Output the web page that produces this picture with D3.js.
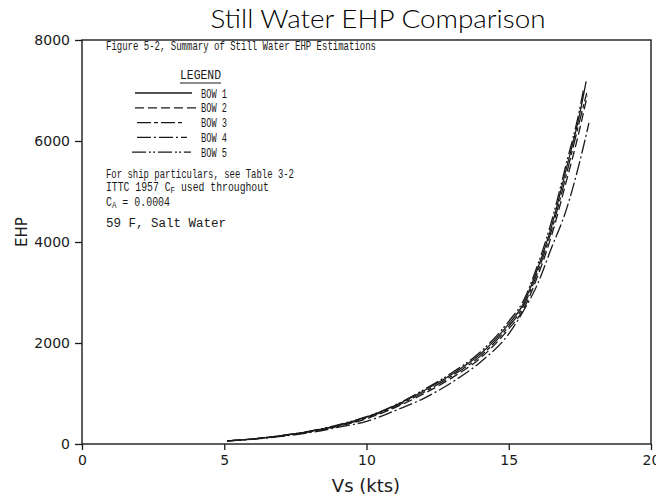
<!DOCTYPE html>
<html><head><meta charset="utf-8">
<script src="https://cdn.jsdelivr.net/npm/d3@7"></script>
<style>body{margin:0;background:#fff}svg{display:block}</style>
</head><body>
<svg id="c" width="656" height="497"></svg>
<script>
// ---- data ----
const xTicks = [0, 5, 10, 15, 20];
const yTicks = [0, 2000, 4000, 6000, 8000];
const seriesNames = ["BOW 1", "BOW 2", "BOW 3", "BOW 4", "BOW 5"];
const speeds = [5.1, 6, 7, 8, 9, 10, 11, 12, 13, 14, 15, 15.5, 16, 16.5, 17, 17.5];
const bow1 = [60, 100, 165, 250, 370, 530, 760, 1050, 1380, 1780, 2380, 2760, 3450, 4300, 5400, 6550];
const bow2 = [60, 98, 158, 240, 350, 500, 720, 990, 1310, 1700, 2280, 2650, 3300, 4120, 5150, 6250];
const bow3 = [60, 100, 160, 245, 360, 515, 740, 1020, 1350, 1740, 2330, 2710, 3380, 4220, 5280, 6420];
const bow4 = [60, 95, 150, 225, 330, 450, 660, 900, 1220, 1620, 2180, 2620, 3150, 3880, 4600, 5600];
const bow5 = [60, 100, 165, 255, 380, 540, 770, 1070, 1410, 1820, 2430, 2820, 3520, 4400, 5500, 6650];
const endSpeeds = [17.72, 17.76, 17.74, 17.82, 17.62];
const endEHP = [7180, 6900, 6950, 6360, 7000];
const dashes = [null, "9,4", "14,3,4,3", "14,3,2,3", "14,3,2,2,2,3"];

// ---- chart ----
const svg = d3.select("#c");
const L = 82, R = 651, T = 40, B = 444;
const x = d3.scaleLinear().domain([0, 20]).range([L, R]);
const y = d3.scaleLinear().domain([0, 8000]).range([B, T]);
const ink = "#1a1a1a";
const sans = "'DejaVu Sans', sans-serif";
const light = "Lato, 'DejaVu Sans', sans-serif";
const mono = "'Liberation Mono', 'DejaVu Sans Mono', monospace";

// frame
svg.append("rect").attr("x", L).attr("y", T).attr("width", R - L).attr("height", B - T)
  .attr("fill", "none").attr("stroke", ink).attr("stroke-width", 1.4);

const xAxis = svg.append("g").attr("transform", `translate(0,${B})`)
  .call(d3.axisBottom(x).tickValues(xTicks).tickFormat(d3.format("d")).tickSize(6).tickPadding(5));
const yAxis = svg.append("g").attr("transform", `translate(${L},0)`)
  .call(d3.axisLeft(y).tickValues(yTicks).tickFormat(d3.format("d")).tickSize(7).tickPadding(5));
[xAxis, yAxis].forEach(g => {
  g.select(".domain").remove();
  g.selectAll("line").attr("stroke", ink).attr("stroke-width", 1.3);
  g.selectAll("text").attr("fill", ink).style("font-family", sans).style("font-size", "14px");
});

// title & axis labels
svg.append("text").attr("x", 378).attr("y", 28).attr("text-anchor", "middle")
  .style("font-family", light).style("font-weight", 300).style("font-size", "26px").attr("fill", "#000")
  .attr("textLength", 335).attr("lengthAdjust", "spacingAndGlyphs")
  .text("Still Water EHP Comparison");
svg.append("text").attr("x", 366).attr("y", 492).attr("text-anchor", "middle")
  .style("font-family", sans).style("font-size", "18px").attr("fill", ink)
  .text("Vs (kts)");
svg.append("text").attr("transform", "translate(27,232) rotate(-90)").attr("text-anchor", "middle")
  .style("font-family", sans).style("font-size", "15px").attr("fill", ink)
  .text("EHP");

// curves
const all = [bow1, bow2, bow3, bow4, bow5];
const line = d3.line().x(d => x(d[0])).y(d => y(d[1])).curve(d3.curveMonotoneX);
all.forEach((vals, i) => {
  const pts = speeds.map((s, j) => [s, vals[j]]);
  pts.push([endSpeeds[i], endEHP[i]]);
  svg.append("path").attr("d", line(pts)).attr("fill", "none")
    .attr("stroke", ink).attr("stroke-width", 1.3)
    .attr("stroke-dasharray", dashes[i]);
});

// annotation
function txt(xp, yp, s, size, len) {
  const t = svg.append("text").attr("x", xp).attr("y", yp)
    .style("font-family", mono).style("font-size", size + "px").attr("fill", ink).text(s);
  if (len) t.attr("textLength", len).attr("lengthAdjust", "spacingAndGlyphs");
  return t;
}
txt(106, 50, "Figure 5-2, Summary of Still Water EHP Estimations", 13, 270);
txt(180, 79, "LEGEND", 13, 41);
svg.append("line").attr("x1", 180).attr("x2", 221).attr("y1", 83).attr("y2", 83)
  .attr("stroke", ink).attr("stroke-width", 1);
const legX1 = [135, 135, 137, 137, 132], legX2 = [192, 198, 183, 187, 191];
seriesNames.forEach((n, i) => {
  const cy = 93 + i * 14.8;
  svg.append("line").attr("x1", legX1[i]).attr("x2", legX2[i]).attr("y1", cy).attr("y2", cy)
    .attr("stroke", ink).attr("stroke-width", 1.3).attr("stroke-dasharray", dashes[i]);
  txt(201, cy + 4.5, n, 12, 26);
});
txt(106, 178, "For ship particulars, see Table 3-2", 12, 188);
const t1 = svg.append("text").attr("x", 106).attr("y", 191)
  .style("font-family", mono).style("font-size", "12px").attr("fill", ink)
  .attr("textLength", 163).attr("lengthAdjust", "spacingAndGlyphs");
t1.append("tspan").text("ITTC 1957 C");
t1.append("tspan").attr("dy", 2).style("font-size", "9px").text("F");
t1.append("tspan").attr("dy", -2).text(" used throughout");
const t2 = svg.append("text").attr("x", 106).attr("y", 206)
  .style("font-family", mono).style("font-size", "12px").attr("fill", ink)
  .attr("textLength", 64).attr("lengthAdjust", "spacingAndGlyphs");
t2.append("tspan").text("C");
t2.append("tspan").attr("dy", 2).style("font-size", "9px").text("A");
t2.append("tspan").attr("dy", -2).text(" = 0.0004");
txt(106, 227, "59  F, Salt Water", 12, 120);
</script>
</body></html>
